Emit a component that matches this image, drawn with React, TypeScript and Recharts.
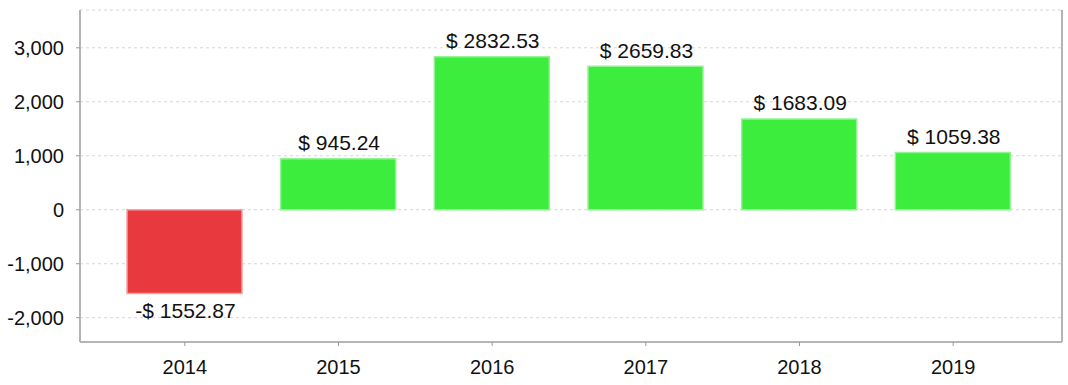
import { Bar, BarChart, CartesianGrid, Cell, LabelList, XAxis, YAxis } from 'recharts';

const years = ['2014', '2015', '2016', '2017', '2018', '2019'];
const profits = [-1552.87, 945.24, 2832.53, 2659.83, 1683.09, 1059.38];
const yTicks = [-2000, -1000, 0, 1000, 2000, 3000];

const chartData = years.map((year, i) => ({ year, profit: profits[i] }));

const FONT = '"Liberation Sans", Arial, sans-serif';
const BORDER = '#b5b5b5';

const formatMoney = (v: number) =>
  v < 0 ? `-$ ${Math.abs(v).toFixed(2)}` : `$ ${v.toFixed(2)}`;

const renderLabel = (props: any) => {
  const { x, y, width, height, value } = props;
  const v = Number(value);
  const top = Math.min(y, y + height);
  const bottom = Math.max(y, y + height);
  const ty = v < 0 ? bottom + 17 : top - 16;
  return (
    <text
      x={x + width / 2 + 1}
      y={ty}
      textAnchor="middle"
      dominantBaseline="central"
      fontSize={21}
      fontFamily={FONT}
      fill="#111"
    >
      {formatMoney(v)}
    </text>
  );
};

const App = () => {
  return (
    <div style={{ position: 'absolute', left: 0, top: 0, background: '#fff' }}>
      <BarChart
        width={1068}
        height={385}
        data={chartData}
        margin={{ top: 10, right: 0, left: 0, bottom: 0 }}
      >
        <CartesianGrid vertical={false} strokeDasharray="3 3" stroke="#d6d6d6" />
        <XAxis
          dataKey="year"
          height={43}
          padding={{ left: 28, right: 32 }}
          tick={{ fontSize: 20, fill: '#111', fontFamily: FONT }}
          tickSize={4}
          tickMargin={14}
          tickLine={{ stroke: '#999' }}
          axisLine={{ stroke: BORDER, strokeWidth: 2 }}
        />
        <XAxis
          xAxisId="top"
          orientation="top"
          dataKey="year"
          height={0}
          tick={false}
          tickLine={false}
          axisLine={{ stroke: BORDER, strokeWidth: 2 }}
        />
        <YAxis
          width={80}
          domain={[-2450, 3700]}
          ticks={yTicks}
          allowDataOverflow
          tickFormatter={(v) => Number(v).toLocaleString('en-US')}
          tick={{ fontSize: 20, fill: '#111', fontFamily: FONT }}
          tickSize={4}
          tickMargin={12}
          tickLine={{ stroke: '#999' }}
          axisLine={{ stroke: BORDER, strokeWidth: 2 }}
        />
        <YAxis
          yAxisId="right"
          orientation="right"
          width={6}
          type="number"
          domain={[0, 1]}
          tick={false}
          tickLine={false}
          axisLine={{ stroke: BORDER, strokeWidth: 2 }}
        />
        <Bar dataKey="profit" barSize={115} isAnimationActive={false} strokeWidth={1.5}>
          {chartData.map((d) => (
            <Cell
              key={d.year}
              fill={d.profit < 0 ? '#e8393e' : '#3ded3d'}
              stroke={d.profit < 0 ? '#f4a3a5' : '#93f393'}
            />
          ))}
          <LabelList dataKey="profit" content={renderLabel} />
        </Bar>
      </BarChart>
    </div>
  );
};

export default App;
